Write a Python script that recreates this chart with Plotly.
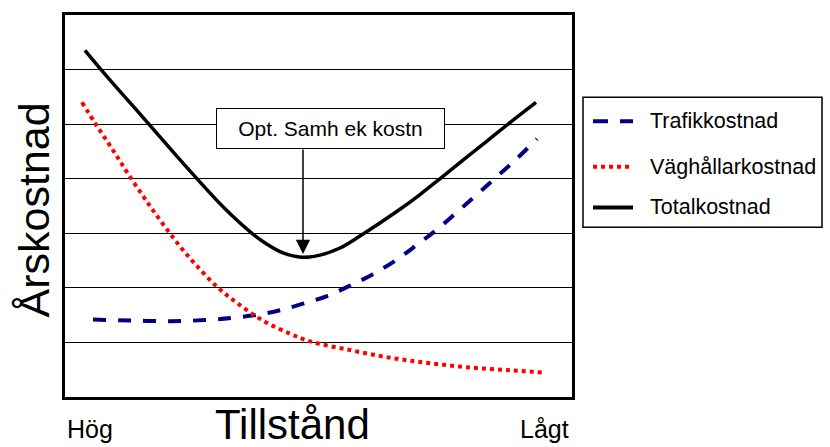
import plotly.graph_objects as go

# ---------------- data ----------------
x_trafik = [5.52, 13.21, 21.10, 27.61, 32.94, 38.07, 42.41, 46.94, 51.68, 56.21,
            60.75, 65.48, 69.43, 73.37, 77.32, 81.26, 85.21, 89.15, 93.10]
y_trafik = [1.42, 1.40, 1.39, 1.41, 1.45, 1.51, 1.59, 1.71, 1.85, 2.04,
            2.25, 2.52, 2.79, 3.07, 3.39, 3.71, 4.04, 4.37, 4.73]

x_vagh = [3.35, 5.92, 8.28, 10.45, 12.43, 15.19, 17.36, 20.12, 22.68, 25.64,
          29.98, 34.12, 39.05, 44.38, 48.32, 56.21, 64.10, 71.99, 79.88, 87.77, 94.08]
y_vagh = [5.40, 5.02, 4.69, 4.38, 4.09, 3.71, 3.42, 3.07, 2.76, 2.44,
          2.02, 1.71, 1.40, 1.16, 1.02, 0.86, 0.72, 0.62, 0.54, 0.49, 0.45]

x_total = [3.94, 6.90, 10.45, 16.37, 21.70, 26.23, 31.56, 36.88, 39.84, 43.00, 46.75,
           50.30, 54.24, 58.19, 66.07, 70.02, 74.36, 78.50, 83.23, 87.77, 92.90]
y_total = [6.35, 6.02, 5.64, 5.02, 4.45, 3.98, 3.45, 3.00, 2.80, 2.64, 2.56,
           2.60, 2.73, 2.95, 3.44, 3.71, 4.03, 4.34, 4.69, 5.03, 5.40]

series_names = ["Trafikkostnad", "Väghållarkostnad", "Totalkostnad"]
x_tick_labels = ["Hög", "Lågt"]
x_title = "Tillstånd"
y_title = "Årskostnad"
opt_label = "Opt. Samh ek kostn"
opt_x = 46.94
opt_y = 2.62

FONT = "Liberation Sans, Arial, sans-serif"

# layout helpers (plot area in pixels)
L, R, T, B = 65, 572, 12, 397
def px(x):
    return (x - L) / (R - L)
def py(y):
    return (B - y) / (B - T)

fig = go.Figure()
styles = [dict(color="#000080", width=4, dash="13px,12px"),
          dict(color="#FF0000", width=4, dash="4px,4px"),
          dict(color="#000000", width=3.5)]
for xs, ys, name, st in zip([x_trafik, x_vagh, x_total], [y_trafik, y_vagh, y_total],
                            series_names, styles):
    fig.add_trace(go.Scatter(x=xs, y=ys, mode="lines", name=name,
                             line=dict(shape="spline", smoothing=1.0, **st),
                             showlegend=False, hoverinfo="skip"))

annotations = []
shapes = []

# optimum box + arrow
annotations.append(dict(x=52.37, y=4.92, xref="x", yref="y", text=opt_label, showarrow=False,
                        font=dict(family=FONT, size=21, color="black"),
                        bgcolor="white", bordercolor="black", borderwidth=1, borderpad=0,
                        width=227, height=39, align="center"))
annotations.append(dict(x=opt_x, y=opt_y, xref="x", yref="y", text="", showarrow=True,
                        ax=0, ay=-106, arrowhead=2, arrowwidth=1.5, arrowsize=1.9,
                        arrowcolor="black"))

# axis titles and tick labels
annotations.append(dict(x=px(292), y=py(425), xref="paper", yref="paper", text=x_title,
                        showarrow=False, font=dict(family=FONT, size=42, color="black"),
                        xanchor="center", yanchor="middle"))
annotations.append(dict(x=px(34), y=py(209), xref="paper", yref="paper", text=y_title,
                        showarrow=False, textangle=-90,
                        font=dict(family=FONT, size=43, color="black"),
                        xanchor="center", yanchor="middle"))
for lab, cx in zip(x_tick_labels, [90, 544]):
    annotations.append(dict(x=px(cx), y=py(429), xref="paper", yref="paper", text=lab,
                            showarrow=False, font=dict(family=FONT, size=25, color="black"),
                            xanchor="center", yanchor="middle"))

# manual legend
shapes.append(dict(type="rect", xref="paper", yref="paper", x0=px(583), x1=px(822),
                   y0=py(226), y1=py(95), line=dict(color="black", width=1.5),
                   fillcolor="white", layer="above"))
rows = [119, 165, 206]
legend_dash = ["15px,12px", "4px,4px", "solid"]
for name, st, ry, dsh in zip(series_names, styles, rows, legend_dash):
    shapes.append(dict(type="line", xref="paper", yref="paper", x0=px(593), x1=px(633),
                       y0=py(ry), y1=py(ry),
                       line=dict(color=st["color"], width=4, dash=dsh),
                       layer="above"))
    annotations.append(dict(x=px(648), y=py(ry), xref="paper", yref="paper", text=name,
                            showarrow=False, xanchor="left", yanchor="middle",
                            font=dict(family=FONT, size=21.5, color="black")))

fig.update_layout(
    width=830, height=447,
    margin=dict(l=L, r=830 - R, t=T, b=447 - B),
    paper_bgcolor="white", plot_bgcolor="white",
    showlegend=False,
    xaxis=dict(range=[0, 100], showgrid=False, zeroline=False, showticklabels=False,
               ticks="", showline=True, linecolor="black", linewidth=3, mirror=True,
               fixedrange=True),
    yaxis=dict(range=[0, 7], dtick=1, tick0=0, showgrid=True, gridcolor="black",
               gridwidth=1.3, zeroline=False, showticklabels=False, ticks="",
               showline=True, linecolor="black", linewidth=3, mirror=True,
               fixedrange=True),
    annotations=annotations, shapes=shapes,
)

fig.write_html("out.html")
